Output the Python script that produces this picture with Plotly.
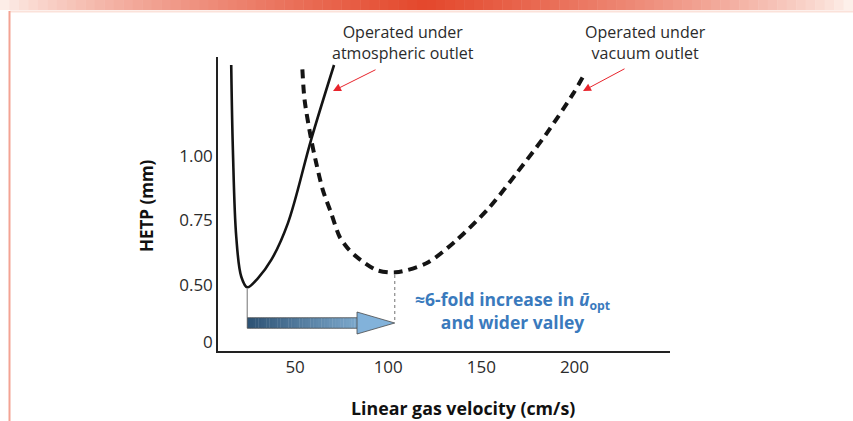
import plotly.graph_objects as go
import numpy as np

# ---------------- data ----------------
atm_velocity = [15.7, 16.6, 18.4, 21.1, 24.3, 30.0, 37.2, 46.1, 58.7, 70.9]
atm_hetp = [1.353, 1.023, 0.687, 0.532, 0.491, 0.526, 0.597, 0.739, 1.066, 1.353]

vac_velocity = [53.9, 55.1, 58.7, 61.4, 64.9, 69.4, 73.9, 78.3, 82.9, 93.7, 104.0,
                120.5, 136.7, 154.6, 168.9, 185.1, 199.4, 205.1]
vac_hetp = [1.336, 1.217, 1.062, 0.971, 0.868, 0.778, 0.687, 0.642, 0.610, 0.558,
            0.549, 0.584, 0.674, 0.803, 0.933, 1.088, 1.243, 1.314]

x_tick_values = [50, 100, 150, 200]
y_tick_values = [0.28, 0.50, 0.75, 1.00]
y_tick_text = ["0", "0.50", "0.75", "1.00"]

atm_opt = (24.3, 0.491)    # minimum of atmospheric curve
vac_opt = (104.0, 0.549)   # minimum of vacuum curve

# ---------------- layout geometry ----------------
W, H = 853, 421
L, R, T, B = 218, 183, 57, 70
X_RANGE = [8.6, 251.3]
Y_RANGE = [0.244, 1.384]
FONT = "'Open Sans', Lato, sans-serif"
TXT = "#2b2b2b"

pw, ph = W - L - R, H - T - B


def px2paper(px, py):
    return (px - L) / pw, (H - B - py) / ph


def py2data(py):
    return Y_RANGE[0] + (H - B - py) / ph * (Y_RANGE[1] - Y_RANGE[0])


def px2data(px):
    return X_RANGE[0] + (px - L) / pw * (X_RANGE[1] - X_RANGE[0])


fig = go.Figure()

fig.add_trace(go.Scatter(
    x=atm_velocity, y=atm_hetp, mode="lines",
    line=dict(color="#141414", width=2.6, shape="spline", smoothing=1.0),
    hoverinfo="skip", showlegend=False))

fig.add_trace(go.Scatter(
    x=vac_velocity, y=vac_hetp, mode="lines",
    line=dict(color="#141414", width=4, shape="spline", smoothing=0.8, dash="9px,6px"),
    hoverinfo="skip", showlegend=False))

shapes = []

# ---- decorations: top gradient band, pale line, left rule ----
n = 90
for i in range(n):
    x0 = i / n * W
    x1 = (i + 1) / n * W
    c = (x0 + x1) / 2
    d = min(1.0, abs(c - 425) / 430)
    t = (1 - d) ** 0.7
    edge = np.array([255, 250, 246])
    center = np.array([228, 72, 44])
    col = (edge + (center - edge) * t).astype(int)
    a0, b0 = px2paper(x0, 0)
    a1, b1 = px2paper(x1 + 0.5, 10)
    shapes.append(dict(type="rect", xref="paper", yref="paper", x0=a0, x1=a1,
                       y0=b1, y1=b0, line=dict(width=0),
                       fillcolor=f"rgb({col[0]},{col[1]},{col[2]})", layer="below"))

a0, b0 = px2paper(10, 11.5)
a1, _ = px2paper(W, 11.5)
shapes.append(dict(type="line", xref="paper", yref="paper", x0=a0, x1=a1, y0=b0, y1=b0,
                   line=dict(color="#fbe2da", width=2)))
a0, b0 = px2paper(9.5, 11)
_, b1 = px2paper(9.5, 421)
shapes.append(dict(type="line", xref="paper", yref="paper", x0=a0, x1=a0, y0=b0, y1=b1,
                   line=dict(color="#f3a394", width=2)))

# ---- drop lines from the minima ----
arrow_y = py2data(323)
arrow_half = (py2data(317.5) - py2data(328)) / 2
head_half = (py2data(311.5) - py2data(333.5)) / 2
shapes.append(dict(type="line", x0=atm_opt[0], x1=atm_opt[0], y0=atm_opt[1] - 0.005,
                   y1=arrow_y + arrow_half, line=dict(color="#8a8a8a", width=1.2)))
shapes.append(dict(type="line", x0=vac_opt[0] - 0.5, x1=vac_opt[0] - 0.5, y0=vac_opt[1] - 0.01,
                   y1=arrow_y + arrow_half * 0.5, line=dict(color="#8a8a8a", width=1.2, dash="dot")))

# ---- gradient arrow ----
shaft_start = atm_opt[0]
head_start = px2data(357)
tip = vac_opt[0] - 0.5
m = 40
c0 = np.array([45, 82, 116])
c1 = np.array([138, 184, 220])
for i in range(m):
    xa = shaft_start + (head_start - shaft_start) * i / m
    xb = shaft_start + (head_start - shaft_start) * (i + 1) / m + 0.2
    f = (i + 0.5) / m * 0.85
    col = (c0 + (c1 - c0) * f).astype(int)
    shapes.append(dict(type="rect", x0=xa, x1=min(xb, head_start), y0=arrow_y - arrow_half,
                       y1=arrow_y + arrow_half, line=dict(width=0),
                       fillcolor=f"rgb({col[0]},{col[1]},{col[2]})"))
shapes.append(dict(type="path",
                   path=f"M {head_start},{arrow_y + head_half} L {tip},{arrow_y} L {head_start},{arrow_y - head_half} Z",
                   fillcolor="rgb(130,178,218)", line=dict(color="#4a4a4a", width=0.8)))
shapes.append(dict(type="path",
                   path=(f"M {head_start},{arrow_y + arrow_half} L {shaft_start},{arrow_y + arrow_half} "
                         f"L {shaft_start},{arrow_y - arrow_half} L {head_start},{arrow_y - arrow_half}"),
                   line=dict(color="#4a4a4a", width=0.8)))

annotations = []
# curve labels
for text, cx in [("Operated under<br>atmospheric outlet", 403),
                 ("Operated under<br>vacuum outlet", 645)]:
    ax, ay = px2paper(cx, 43)
    annotations.append(dict(xref="paper", yref="paper", x=ax, y=ay, text=text,
                            xanchor="center", yanchor="middle",
                            showarrow=False, align="center",
                            font=dict(family=FONT, size=16, color=TXT)))

# red pointer arrows
for (sx, sy), (tx, ty) in [((377, 69), (333, 91)), ((626, 68), (583, 91))]:
    ax0, ay0 = px2paper(tx, ty)
    annotations.append(dict(xref="paper", yref="paper", x=ax0, y=ay0, ax=sx - tx, ay=sy - ty,
                            axref="pixel", ayref="pixel", text="", showarrow=True,
                            arrowhead=2, arrowsize=1.6, arrowwidth=1, arrowcolor="#e8242c"))

# blue note
bx, by = px2paper(512, 310)
annotations.append(dict(xref="paper", yref="paper", x=bx, y=by,
                        xanchor="center", yanchor="middle",
                        text="≈6-fold increase in <i>ū</i><sub>opt</sub><br>and wider valley",
                        showarrow=False, align="center",
                        font=dict(family=FONT, size=17.5, color="#3a7abd", weight="bold")))

# axis titles
tx, ty = px2paper(463, 408)
annotations.append(dict(xref="paper", yref="paper", x=tx, y=ty,
                        xanchor="center", yanchor="middle",
                        text="<b>Linear gas velocity (cm/s)</b>", showarrow=False,
                        font=dict(family=FONT, size=17.8, color="#111")))
tx, ty = px2paper(146, 206)
annotations.append(dict(xref="paper", yref="paper", x=tx, y=ty, textangle=-90,
                        xanchor="center", yanchor="middle",
                        text="<b>HETP (mm)</b>", showarrow=False,
                        font=dict(family=FONT, size=17, color="#111")))

fig.update_layout(
    width=W, height=H,
    margin=dict(l=L, r=R, t=T, b=B),
    paper_bgcolor="white", plot_bgcolor="white",
    shapes=shapes, annotations=annotations,
    xaxis=dict(range=X_RANGE, tickvals=x_tick_values, showgrid=False, zeroline=False,
               showline=True, linecolor="#222", linewidth=1.5, ticks="",
               tickfont=dict(family=FONT, size=17, color=TXT)),
    yaxis=dict(range=Y_RANGE, tickvals=y_tick_values, ticktext=y_tick_text, showgrid=False,
               zeroline=False, showline=True, linecolor="#222", linewidth=1.5, ticks="",
               tickfont=dict(family=FONT, size=17, color=TXT)),
)

fig.write_html("out.html")
